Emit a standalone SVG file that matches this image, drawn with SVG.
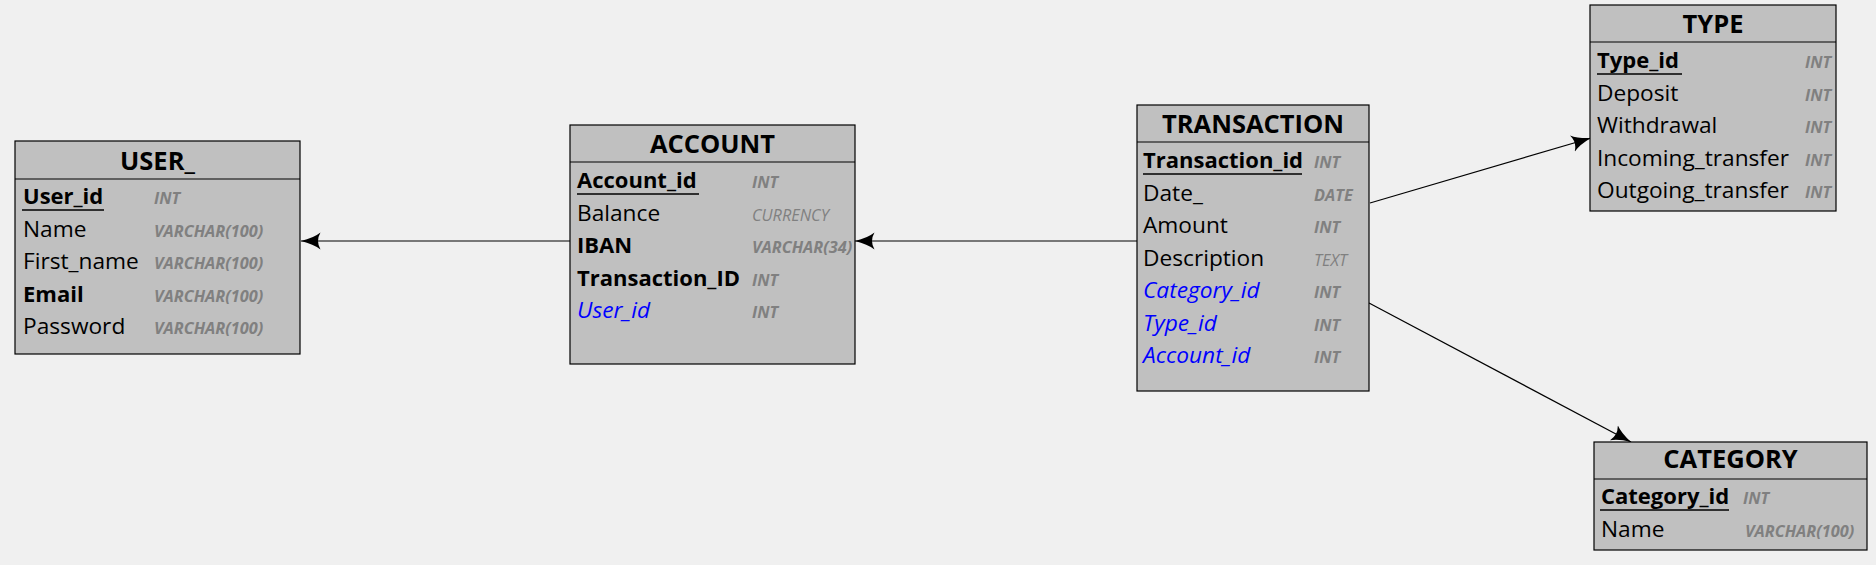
<svg xmlns="http://www.w3.org/2000/svg" width="1876" height="565" viewBox="0 0 1876 565">
<defs>
<style>
.box{fill:#c0c0c0;stroke:#000;stroke-width:1.2}
.sep{stroke:#000;stroke-width:1.2}
.ul{stroke:#000;stroke-width:1.5}
.title{font-family:"Open Sans","Liberation Sans",sans-serif;font-weight:bold;font-size:25.5px;fill:#000;text-anchor:middle}
.f{font-family:"Open Sans","Liberation Sans",sans-serif;font-size:22.7px;fill:#000}
.b{font-weight:bold;font-size:22px}
.fk{font-style:italic;fill:#0000ff}
.t{font-family:"Open Sans","Liberation Sans",sans-serif;font-size:16.3px;font-style:italic;font-weight:bold;fill:#808080}
.tn{font-weight:normal}
.conn{stroke:#000;stroke-width:1.2;fill:none;marker-end:url(#arr)}
</style>
<marker id="arr" viewBox="0 0 20 18" refX="19.5" refY="9" markerWidth="20" markerHeight="18" markerUnits="userSpaceOnUse" orient="auto">
<path d="M0,0.5 Q7,6 19.5,9 Q7,12 0,17.5 Q5,9 0,0.5 Z" fill="#000"/>
</marker>
</defs>
<rect width="1876" height="565" fill="#f0f0f0"/>

<g id="connectors">
<line class="conn" x1="570" y1="241" x2="301" y2="241"/>
<line class="conn" x1="1137" y1="241" x2="855" y2="241"/>
<line class="conn" x1="1370" y1="203" x2="1591" y2="138"/>
<line class="conn" x1="1369" y1="303" x2="1631" y2="442"/>
</g>

<g id="user">
<rect class="box" x="15" y="141" width="285" height="213"/>
<line class="sep" x1="15" y1="179" x2="300" y2="179"/>
<text class="title" x="157.5" y="170">USER_</text>
<text class="f b" x="23" y="204">User_id</text>
<line class="ul" x1="22" y1="210" x2="104" y2="210"/>
<text class="f" x="23" y="236.5">Name</text>
<text class="f" x="23" y="269">First_name</text>
<text class="f b" x="23" y="301.5">Email</text>
<text class="f" x="23" y="334">Password</text>
<text class="t" x="154" y="204">INT</text>
<text class="t" x="154" y="236.5">VARCHAR(100)</text>
<text class="t" x="154" y="269">VARCHAR(100)</text>
<text class="t" x="154" y="301.5">VARCHAR(100)</text>
<text class="t" x="154" y="334">VARCHAR(100)</text>
</g>

<g id="account">
<rect class="box" x="570" y="125" width="285" height="239"/>
<line class="sep" x1="570" y1="162" x2="855" y2="162"/>
<text class="title" x="712.5" y="153">ACCOUNT</text>
<text class="f b" x="577" y="188">Account_id</text>
<line class="ul" x1="577" y1="194" x2="699" y2="194"/>
<text class="f" x="577" y="221">Balance</text>
<text class="f b" x="577" y="253">IBAN</text>
<text class="f b" x="577" y="286">Transaction_ID</text>
<text class="f fk" x="577" y="318">User_id</text>
<text class="t" x="752" y="188">INT</text>
<text class="t tn" x="752" y="221">CURRENCY</text>
<text class="t" x="752" y="253">VARCHAR(34)</text>
<text class="t" x="752" y="286">INT</text>
<text class="t" x="752" y="318">INT</text>
</g>

<g id="transaction">
<rect class="box" x="1137" y="105" width="232" height="286"/>
<line class="sep" x1="1137" y1="142" x2="1369" y2="142"/>
<text class="title" x="1253" y="133">TRANSACTION</text>
<text class="f b" x="1143" y="168">Transaction_id</text>
<line class="ul" x1="1143" y1="174" x2="1302" y2="174"/>
<text class="f" x="1143" y="201">Date_</text>
<text class="f" x="1143" y="233">Amount</text>
<text class="f" x="1143" y="266">Description</text>
<text class="f fk" x="1143" y="298">Category_id</text>
<text class="f fk" x="1143" y="331">Type_id</text>
<text class="f fk" x="1143" y="363">Account_id</text>
<text class="t" x="1314" y="168">INT</text>
<text class="t" x="1314" y="201">DATE</text>
<text class="t" x="1314" y="233">INT</text>
<text class="t tn" x="1314" y="266">TEXT</text>
<text class="t" x="1314" y="298">INT</text>
<text class="t" x="1314" y="331">INT</text>
<text class="t" x="1314" y="363">INT</text>
</g>

<g id="type">
<rect class="box" x="1590" y="5" width="246" height="206"/>
<line class="sep" x1="1590" y1="42" x2="1836" y2="42"/>
<text class="title" x="1713" y="33">TYPE</text>
<text class="f b" x="1597" y="67.5">Type_id</text>
<line class="ul" x1="1597" y1="74" x2="1682" y2="74"/>
<text class="f" x="1597" y="100.5">Deposit</text>
<text class="f" x="1597" y="133">Withdrawal</text>
<text class="f" x="1597" y="165.5">Incoming_transfer</text>
<text class="f" x="1597" y="198">Outgoing_transfer</text>
<text class="t" x="1805" y="67.5">INT</text>
<text class="t" x="1805" y="100.5">INT</text>
<text class="t" x="1805" y="133">INT</text>
<text class="t" x="1805" y="165.5">INT</text>
<text class="t" x="1805" y="198">INT</text>
</g>

<g id="category">
<rect class="box" x="1594" y="442" width="273" height="108"/>
<line class="sep" x1="1594" y1="479" x2="1867" y2="479"/>
<text class="title" x="1730.5" y="468">CATEGORY</text>
<text class="f b" x="1601" y="504">Category_id</text>
<line class="ul" x1="1600" y1="510" x2="1729" y2="510"/>
<text class="f" x="1601" y="536.5">Name</text>
<text class="t" x="1743" y="504">INT</text>
<text class="t" x="1745" y="536.5">VARCHAR(100)</text>
</g>
</svg>
